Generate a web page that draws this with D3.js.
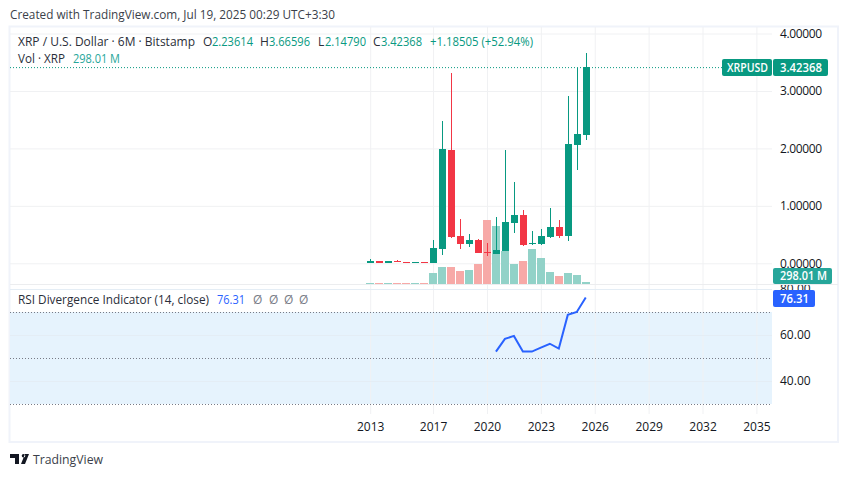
<!DOCTYPE html>
<html>
<head>
<meta charset="utf-8">
<script src="https://cdn.jsdelivr.net/npm/d3@7"></script>
<style>
  html, body { margin: 0; padding: 0; background: #fff; }
  svg { display: block; }
  text { font-family: "Open Sans", "Noto Sans", sans-serif; font-size: 12px; fill: #131722; }
  .tick line { stroke: #f0f1f3; }
  .domain { display: none; }
</style>
</head>
<body>
<svg id="chart" width="848" height="477"></svg>
<script>
// half-year bars, 2013 H2 .. 2025 H2
const periods = ["2013H2","2014H1","2014H2","2015H1","2015H2","2016H1","2016H2","2017H1","2017H2","2018H1","2018H2","2019H1","2019H2","2020H1","2020H2","2021H1","2021H2","2022H1","2022H2","2023H1","2023H2","2024H1","2024H2","2025H1","2025H2"];
const opens = [0.006,0.04,0.006,0.04,0.023,0.006,0.023,0.006,0.25,1.972,0.476,0.337,0.406,0.197,0.162,0.215,0.702,0.841,0.337,0.337,0.458,0.632,0.476,2.06,2.23614];
const closes = [0.04,0.006,0.04,0.023,0.006,0.023,0.006,0.267,1.99,0.458,0.337,0.406,0.18,0.18,0.232,0.72,0.841,0.319,0.354,0.476,0.632,0.476,2.077,2.25,3.42368];
const highs = [0.075,0.04,0.04,0.05,0.023,0.023,0.023,0.406,2.477,3.31,0.772,0.51,0.424,0.354,0.806,1.97,1.416,0.928,0.563,0.598,0.963,0.754,2.912,3.4,3.66596];
const lows = [0.005,0.006,0.006,0.023,0.006,0.006,0.006,0.006,0.145,0.44,0.25,0.284,0.18,0.128,0.162,0.215,0.528,0.302,0.319,0.319,0.441,0.441,0.389,1.624,2.1479];
// volume in millions of XRP
const volumes = [150,150,150,150,150,150,150,1640,2530,2530,1940,2090,2980,9540,8640,4950,2980,3430,5250,3900,1790,1190,1640,1340,298.01];
// RSI starts at 2020 H2
const rsiStart = 14;
const rsiValues = [52.8,58.3,59.6,52.8,52.8,54.5,56.2,54.1,68.75,70.0,76.31];

const priceTicks = [0, 1, 2, 3, 4];
const rsiTicks = [40, 60, 80];
const rsiLevels = [70, 50, 30];
const timeTickBars = [0, 7, 13, 19, 25, 31, 37, 43];
const timeTickLabels = ["2013", "2017", "2020", "2023", "2026", "2029", "2032", "2035"];

const UP = "#089981", DOWN = "#f23645";
const UP_VOL = "#92d2c8", DOWN_VOL = "#f7a9a7";

const svg = d3.select("#chart");
const paneLeft = 10, paneRight = 772, frameRight = 838;
const priceTop = 27, priceBottom = 284, rsiTop = 285, rsiBottom = 414, frameBottom = 442;

const x = d3.scaleLinear().domain([0, 43]).range([370.2, 756.4]);
const y = d3.scaleLinear().domain([0, 4]).range([263.3, 33.5]);
const yVol = d3.scaleLinear().domain([0, 9540]).range([284, 220]);
const yRsi = d3.scaleLinear().domain([60, 40]).range([335, 381]);
const cx = i => Math.round(x(i)) + 0.5;

const bars = periods.map((period, i) => ({
  period, i, open: opens[i], close: closes[i], high: highs[i], low: lows[i], volume: volumes[i],
  up: closes[i] >= opens[i],
}));

// 80.00 gets cut by the pane top, in the axis group's own coordinates
svg.append("defs").append("clipPath").attr("id", "rsi-clip")
  .append("rect")
  .attr("x", paneLeft - paneRight).attr("y", rsiTop)
  .attr("width", frameRight - paneLeft).attr("height", rsiBottom - rsiTop);

// frame
svg.append("rect")
  .attr("x", 9.5).attr("y", 26.5)
  .attr("width", frameRight - 9.5).attr("height", frameBottom - 26.5)
  .attr("fill", "none").attr("stroke", "#f0f3fa").attr("stroke-width", 2);

// RSI band sits under the grid
svg.append("rect")
  .attr("x", paneLeft).attr("width", paneRight - paneLeft)
  .attr("y", yRsi(70)).attr("height", yRsi(30) - yRsi(70))
  .attr("fill", "#e3f2fd").attr("opacity", 0.9);

// vertical grid, price pane + rsi pane
[[priceTop, priceBottom], [rsiTop, rsiBottom]].forEach(([top, bottom]) => {
  svg.append("g")
    .attr("transform", `translate(0,${bottom})`)
    .call(d3.axisBottom(x).tickValues(timeTickBars).tickFormat("").tickSize(-(bottom - top)).tickSizeOuter(0))
    .call(g => g.selectAll(".tick text").remove());
});

// price axis with grid
const priceAxis = svg.append("g")
  .attr("transform", `translate(${paneRight},0)`)
  .call(d3.axisRight(y).tickValues(priceTicks).tickFormat(d3.format(".5f")).tickSize(0).tickPadding(8));
priceAxis.selectAll(".tick").append("line")
  .attr("x1", paneLeft - paneRight).attr("x2", 0);
priceAxis.selectAll("text").attr("textLength", 42);

const rsiAxis = svg.append("g")
  .attr("transform", `translate(${paneRight},0)`)
  .attr("clip-path", "url(#rsi-clip)")
  .call(d3.axisRight(yRsi).tickValues(rsiTicks).tickFormat(d3.format(".2f")).tickSize(0).tickPadding(8));
rsiAxis.selectAll(".tick").append("line")
  .attr("x1", paneLeft - paneRight).attr("x2", 0)
  .style("stroke", "#e4edf5");

// pane divider
svg.append("line")
  .attr("x1", paneLeft).attr("x2", frameRight)
  .attr("y1", priceBottom + 0.5).attr("y2", priceBottom + 0.5)
  .attr("stroke", "#ecedef");

// time axis labels
svg.append("g")
  .attr("transform", `translate(0,${rsiBottom})`)
  .call(d3.axisBottom(x).tickValues(timeTickBars).tickFormat((d, i) => timeTickLabels[i]).tickSize(0).tickPadding(8))
  .call(g => g.selectAll(".tick text").attr("dy", "0.71em"));

// volume
svg.append("g").selectAll("rect").data(bars).join("rect")
  .attr("x", d => cx(d.i) - 4.5).attr("width", 8)
  .attr("y", d => Math.round(yVol(d.volume)))
  .attr("height", d => yVol(0) - Math.round(yVol(d.volume)))
  .attr("fill", d => d.up ? UP_VOL : DOWN_VOL)
  .attr("shape-rendering", "crispEdges");

// candles
const candles = svg.append("g").selectAll("g").data(bars).join("g")
  .attr("shape-rendering", "crispEdges");
candles.append("line")
  .attr("x1", d => cx(d.i)).attr("x2", d => cx(d.i))
  .attr("y1", d => y(d.high)).attr("y2", d => y(d.low))
  .attr("stroke", d => d.up ? UP : DOWN);
candles.append("rect")
  .attr("x", d => cx(d.i) - 3.5).attr("width", 7)
  .attr("y", d => y(Math.max(d.open, d.close)))
  .attr("height", d => Math.max(1, Math.abs(y(d.open) - y(d.close))))
  .attr("fill", d => d.up ? UP : DOWN);

// last price line
const lastClose = closes[closes.length - 1];
svg.append("line")
  .attr("x1", paneLeft).attr("x2", paneRight)
  .attr("y1", y(lastClose) + 1).attr("y2", y(lastClose) + 1)
  .attr("stroke", UP).attr("stroke-dasharray", "1 2");

// RSI levels
svg.append("g").selectAll("line").data(rsiLevels).join("line")
  .attr("x1", paneLeft).attr("x2", paneRight)
  .attr("y1", d => Math.round(yRsi(d)) + 0.5).attr("y2", d => Math.round(yRsi(d)) + 0.5)
  .attr("stroke", "#787b86").attr("stroke-dasharray", "1 2");

// RSI line
const rsiLine = d3.line().x((d, i) => x(rsiStart + i)).y(d => yRsi(d));
svg.append("path")
  .datum(rsiValues)
  .attr("d", rsiLine)
  .attr("fill", "none").attr("stroke", "#2962ff").attr("stroke-width", 2);

// axis badges
function badge(bx, by, w, h, fill, label, textX, textW) {
  svg.append("rect").attr("x", bx).attr("y", by).attr("width", w).attr("height", h).attr("rx", 2).attr("fill", fill);
  svg.append("text").attr("x", textX).attr("y", by + h / 2).attr("dy", "0.35em")
    .attr("textLength", textW).attr("lengthAdjust", "spacingAndGlyphs")
    .style("fill", "#fff").style("font-weight", 600).text(label);
}
badge(722, 59, 50, 17, UP, "XRPUSD", 727, 41);
badge(773, 59, 55, 17, UP, d3.format(".5f")(lastClose), 780, 42);
badge(773, 268, 59, 16, "#26a69a", "298.01 M", 780, 47);
badge(773, 290, 42, 17, "#2962ff", rsiValues[rsiValues.length - 1].toFixed(2), 780, 29);

// legends, one text per piece with its measured width
const legendGray = "#2a2e39", legendUp = "#089981";
[
  [10, 19, "Created with TradingView.com, Jul 19, 2025 00:29 UTC+3:30", "#3b3f4a", 325],
  [18, 46, "XRP / U.S. Dollar · 6M · Bitstamp", legendGray, 177],
  [203, 46, "O", legendGray], [212, 46, "2.23614", legendUp, 41],
  [260, 46, "H", legendGray], [269, 46, "3.66596", legendUp, 41],
  [318, 46, "L", legendGray], [325, 46, "2.14790", legendUp, 41],
  [373, 46, "C", legendGray], [381, 46, "3.42368", legendUp, 41],
  [430, 46, "+1.18505 (+52.94%)", legendUp, 103],
  [18, 63, "Vol · XRP", legendGray, 47], [73, 63, "298.01 M", "#26a69a", 47],
  [18, 304, "RSI Divergence Indicator (14, close)", legendGray, 191],
  [217, 304, "76.31", "#2962ff", 28],
  [253, 304, "Ø", "#787b86"], [269, 304, "Ø", "#787b86"], [284, 304, "Ø", "#787b86"], [299, 304, "Ø", "#787b86"],
].forEach(([tx, ty, label, color, width]) => {
  const t = svg.append("text").attr("x", tx).attr("y", ty).style("fill", color).text(label);
  if (width) t.attr("textLength", width).attr("lengthAdjust", "spacingAndGlyphs");
});

// logo + wordmark
svg.append("path")
  .attr("d", "M10 454h9v10h-4v-6h-5z M23.5 454a1.8 1.8 0 1 1 0 3.6a1.8 1.8 0 0 1 0-3.6z M25 464l4-10h-4l-4 10z")
  .attr("fill", "#131722");
svg.append("text").attr("x", 33).attr("y", 464).style("fill", "#3b3f4a").style("font-size", "13px")
  .attr("textLength", 70).attr("lengthAdjust", "spacingAndGlyphs").text("TradingView");
</script>
</body>
</html>
